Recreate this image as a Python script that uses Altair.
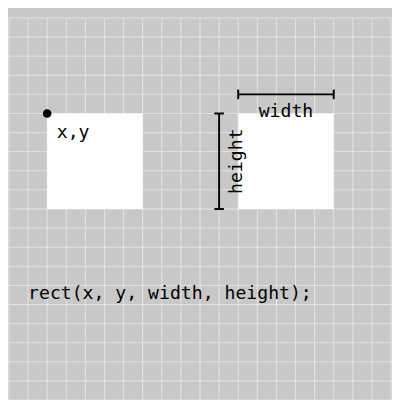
import altair as alt
import pandas as pd

# white rectangles (x, y, width, height) in sketch pixels
rect_x = [40, 240]
rect_y = [100, 100]
rect_w = [100, 100]
rect_h = [100, 100]

# dimension lines: x, y, x2, y2
seg_x = [240, 240, 340, 220, 215, 215]
seg_y = [80, 75, 75, 100, 100, 200]
seg_x2 = [340, 240, 340, 220, 225, 225]
seg_y2 = [80, 85, 85, 200, 100, 200]

labels = ["x,y", "width", "rect(x, y, width, height);"]
label_x = [50, 290, 20]
label_y = [120, 98, 288]
label_align = ["left", "center", "left"]

grid = list(range(0, 401, 20))
FONT = "DejaVu Sans Mono"

xs = alt.Scale(domain=[0, 400], nice=False)
ys = alt.Scale(domain=[400, 0], nice=False)
no_axis = alt.Axis(labels=False, ticks=False, domain=False, grid=False, title=None)

rects = pd.DataFrame({"x": rect_x, "y": rect_y,
                      "x2": [a + b for a, b in zip(rect_x, rect_w)],
                      "y2": [a + b for a, b in zip(rect_y, rect_h)]})
segs = pd.DataFrame({"x": seg_x, "y": seg_y, "x2": seg_x2, "y2": seg_y2})
texts = pd.DataFrame({"t": labels, "x": label_x, "y": label_y, "a": label_align})
gdf = pd.DataFrame({"g": grid})

vgrid = alt.Chart(gdf).mark_rule(color="white", opacity=0.5, strokeWidth=1).encode(
    x=alt.X("g:Q", scale=xs, axis=no_axis))
hgrid = alt.Chart(gdf).mark_rule(color="white", opacity=0.5, strokeWidth=1).encode(
    y=alt.Y("g:Q", scale=ys, axis=no_axis))

base_rect = alt.Chart(rects).mark_rect(color="white").encode(
    x=alt.X("x:Q", scale=xs), x2="x2", y=alt.Y("y:Q", scale=ys), y2="y2")

lines = alt.Chart(segs).mark_rule(color="black", strokeWidth=2).encode(
    x=alt.X("x:Q", scale=xs), x2="x2", y=alt.Y("y:Q", scale=ys), y2="y2")

dot = alt.Chart(pd.DataFrame({"x": [40], "y": [100]})).mark_circle(
    color="black", size=80, opacity=1).encode(
    x=alt.X("x:Q", scale=xs), y=alt.Y("y:Q", scale=ys))

left_txt = alt.Chart(texts[texts.a == "left"]).mark_text(
    font=FONT, fontSize=19, align="left", baseline="middle", color="black").encode(
    x=alt.X("x:Q", scale=xs), y=alt.Y("y:Q", scale=ys), text="t")
mid_txt = alt.Chart(texts[texts.a == "center"]).mark_text(
    font=FONT, fontSize=19, align="center", baseline="middle", color="black").encode(
    x=alt.X("x:Q", scale=xs), y=alt.Y("y:Q", scale=ys), text="t")
height_txt = alt.Chart(pd.DataFrame({"t": ["height"], "x": [238], "y": [150]})).mark_text(
    font=FONT, fontSize=19, align="center", baseline="middle", angle=270, color="black").encode(
    x=alt.X("x:Q", scale=xs), y=alt.Y("y:Q", scale=ys), text="t")

chart = (vgrid + hgrid + base_rect + lines + dot + left_txt + mid_txt + height_txt).properties(
    width=400, height=400, padding=0, background="#c8c8c8"
).configure_view(fill="#c8c8c8", stroke=None)

chart.save("out.html", embed_options={"renderer": "svg", "actions": False})
